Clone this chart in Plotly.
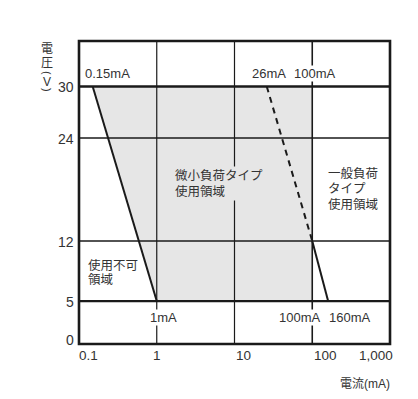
import numpy as np
import plotly.graph_objects as go

# ---- data ----
x_tick_values = [0.1, 1, 10, 100, 1000]
x_tick_labels = ["0.1", "1", "10", "100", "1,000"]
y_tick_values = [0, 5, 12, 24, 30]
y_tick_labels = ["0", "5", "12", "24", "30"]

# micro-load usable region (polygon)
region_current = [0.15, 100, 100, 1, 0.15]
region_voltage = [30, 30, 5, 5, 30]

# boundary lines
micro_limit_current = [0.15, 1]
micro_limit_voltage = [30, 5]
general_dashed_current = [26, 100]
general_dashed_voltage = [30, 12]
general_solid_current = [100, 160]
general_solid_voltage = [12, 5]

grid_voltages = [5, 12, 24, 30]
grid_currents = [1, 10, 100]

# ---- layout constants ----
OFF = 8  # page body margin
PAGE_W, PAGE_H = 418, 399
W, H = PAGE_W - OFF, PAGE_H - OFF
PL, PR, PT, PB = 79, 390, 41, 344  # plot box in page pixels
L, T = PL - OFF, PT - OFF
R, B = W - (PR - OFF), H - (PB - OFF)
XMIN, XMAX = 0.1, 1000
YMAX = 35.3
PW = PR - PL
PH = PB - PT

LINE = "#1a1a1a"
TXT = "#333333"
FILL = "#e6e6e6"
FONT = "Liberation Sans, Arial, Noto Sans CJK JP"
# Latin-first stack: CJK glyphs fall back to Noto CJK, line box stays compact
JFONT = "Liberation Sans, Noto Sans CJK JP"


def ax(px):
    return (px - PL) / PW * (np.log10(XMAX) - np.log10(XMIN)) + np.log10(XMIN)


def ay(py):
    return (PB - py) / PH * YMAX


def paper_x(px):
    return (px - PL) / PW


def paper_y(py):
    return (PB - py) / PH


fig = go.Figure()

fig.add_trace(go.Scatter(x=region_current, y=region_voltage, fill="toself",
                         fillcolor=FILL, mode="lines", line=dict(width=0),
                         hoverinfo="skip", showlegend=False))

for v in grid_voltages:
    w = 2.4 if v in (5, 30) else 1.4
    fig.add_trace(go.Scatter(x=[XMIN, XMAX], y=[v, v], mode="lines",
                             line=dict(color=LINE, width=w),
                             hoverinfo="skip", showlegend=False))
for c in grid_currents:
    w = 1.6 if c == 100 else 1.2
    fig.add_trace(go.Scatter(x=[c, c], y=[0, YMAX], mode="lines",
                             line=dict(color=LINE, width=w),
                             hoverinfo="skip", showlegend=False))

fig.add_trace(go.Scatter(x=micro_limit_current, y=micro_limit_voltage, mode="lines",
                         line=dict(color=LINE, width=2), showlegend=False))
fig.add_trace(go.Scatter(x=general_dashed_current, y=general_dashed_voltage, mode="lines",
                         line=dict(color=LINE, width=2, dash="6px,5px"), showlegend=False))
fig.add_trace(go.Scatter(x=general_solid_current, y=general_solid_voltage, mode="lines",
                         line=dict(color=LINE, width=2), showlegend=False))

ann = []


def add(text, px, py, xanchor="left", bg=None, size=13, font=FONT, pad=0):
    d = dict(text=text, x=ax(px), y=ay(py), xref="x", yref="y",
             xanchor=xanchor, yanchor="middle", showarrow=False, align="left",
             font=dict(family=font, size=size, color=TXT), borderpad=pad)
    if bg:
        d["bgcolor"] = bg
    ann.append(d)


# tick labels
x_label_anchor = ["left", "center", "left", "left", "right"]
x_label_shift = [-2, 0, -1, 0, 5]
for v, t, a, s in zip(x_tick_values, x_tick_labels, x_label_anchor, x_label_shift):
    ann.append(dict(text=t, x=np.log10(v), y=0, xref="x", yref="paper",
                    xanchor=a, yanchor="top", xshift=s, yshift=-2, showarrow=False,
                    font=dict(family=FONT, size=13.5, color=TXT)))
for v, t in zip(y_tick_values, y_tick_labels):
    ann.append(dict(text=t, x=0, y=v, xref="paper", yref="y",
                    xanchor="right", yanchor="middle", xshift=-3,
                    yshift=4 if v == 0 else -1, showarrow=False,
                    font=dict(family=FONT, size=14, color=TXT)))

# region labels
add("0.15mA", 84, 73, bg="white")
add("26mA", 251, 73)
add("100mA", 293, 73, bg="white")
add("1mA", 149, 317, bg="white")
add("100mA", 278, 317, bg="white")
add("160mA", 328, 317)
# micro-load area (background hides the 10 mA grid line)
add("微小負荷タイプ<br>使用領域", 173, 183, bg=FILL, size=12.5, font=JFONT, pad=1)
# general-load area
add("一般負荷", 327, 174, size=12.5, font=JFONT)
add("タイプ", 327, 189, size=12.5, font=JFONT)
add("使用領域", 327, 204, size=12.5, font=JFONT)
# unusable area
add("使用不可", 87, 265, size=12.5, font=JFONT)
add("領域", 87, 280, size=12.5, font=JFONT)

# axis titles (vertical y title, one glyph per row; parentheses turned sideways)
y_title_glyphs = ["電", "圧", "(", "V", ")"]
y_title_rows = [49, 63, 73, 82, 90]
y_title_angles = [0, 0, 90, 0, 90]
y_title_sizes = [12, 12, 11, 12, 11]
for ch, py, ang, sz in zip(y_title_glyphs, y_title_rows, y_title_angles, y_title_sizes):
    ann.append(dict(text=ch, x=paper_x(47), y=paper_y(py), xref="paper", yref="paper",
                    showarrow=False, xanchor="center", yanchor="middle", textangle=ang,
                    font=dict(family=JFONT if ang == 0 else FONT, size=sz, color=TXT)))
ann.append(dict(text="電流(mA)", x=paper_x(392), y=paper_y(384),
                xref="paper", yref="paper", xanchor="right", yanchor="middle",
                showarrow=False, font=dict(family=JFONT, size=12, color=TXT)))

fig.update_layout(
    width=W, height=H,
    margin=dict(l=L, r=R, t=T, b=B),
    paper_bgcolor="white", plot_bgcolor="white",
    xaxis=dict(type="log", range=[np.log10(XMIN), np.log10(XMAX)],
               showgrid=False, zeroline=False, showticklabels=False, ticks=""),
    yaxis=dict(range=[0, YMAX], showgrid=False, zeroline=False,
               showticklabels=False, ticks=""),
    annotations=ann,
    shapes=[dict(type="rect", xref="paper", yref="paper", x0=0, x1=1, y0=0, y1=1,
                 line=dict(color=LINE, width=2.6))],
    showlegend=False,
)

fig.write_html("out.html")
